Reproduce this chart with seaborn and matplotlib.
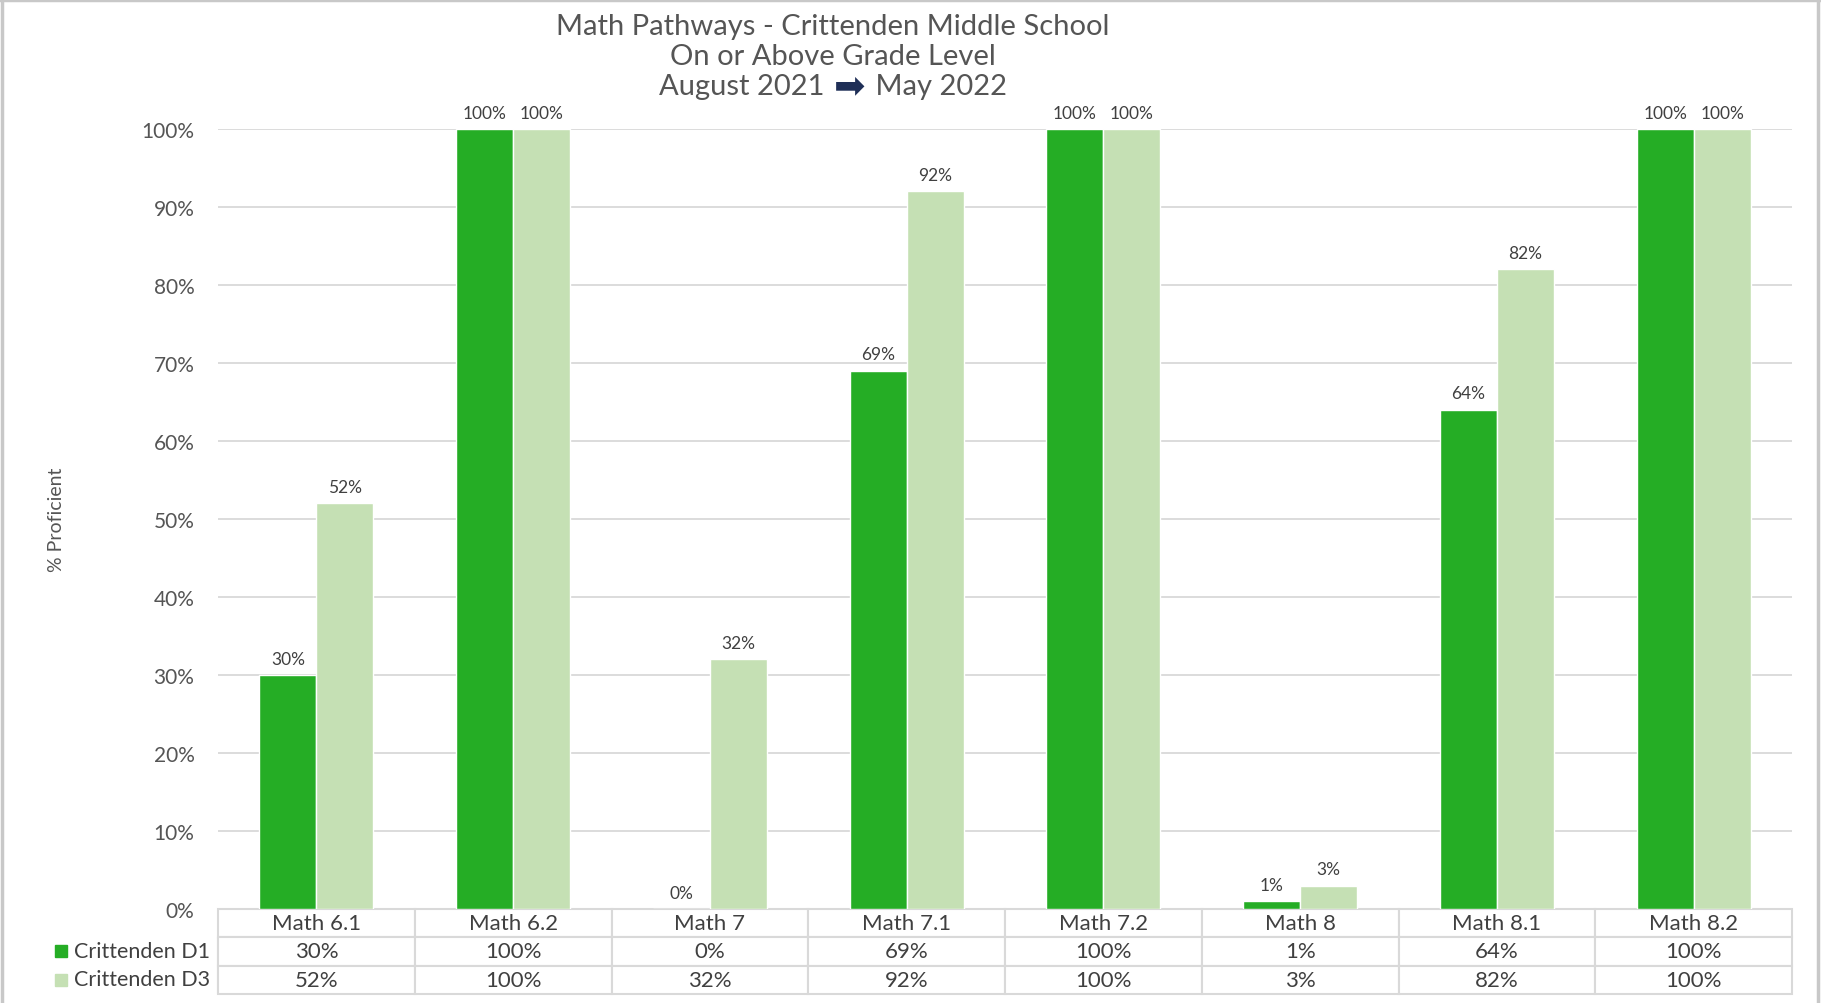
import numpy as np
import pandas as pd
import matplotlib
matplotlib.use("Agg")
import matplotlib.pyplot as plt
from matplotlib.lines import Line2D
from matplotlib.offsetbox import TextArea, HPacker, AnchoredOffsetbox
from matplotlib.ticker import FuncFormatter
import seaborn as sns

# ---- data -------------------------------------------------------------
courses = ["Math 6.1", "Math 6.2", "Math 7", "Math 7.1",
           "Math 7.2", "Math 8", "Math 8.1", "Math 8.2"]
series_names = ["Crittenden D1", "Crittenden D3"]
d1_values = [30, 100, 0, 69, 100, 1, 64, 100]
d3_values = [52, 100, 32, 92, 100, 3, 82, 100]
y_ticks = [0, 10, 20, 30, 40, 50, 60, 70, 80, 90, 100]
title_lines = ["Math Pathways - Crittenden Middle School", "On or Above Grade Level"]
period_start, period_end = "August 2021", "May 2022"
y_label = "% Proficient"

# ---- styling ----------------------------------------------------------
DARK = "#25ad25"
LIGHT = "#c5e0b4"
TEXT = "#555555"
LABEL = "#404040"
GRID = "#d9d9d9"

sns.set_theme(style="white")
plt.rcParams["font.family"] = ["Lato", "DejaVu Sans"]

df = pd.DataFrame({
    "course": courses * 2,
    "series": [series_names[0]] * len(courses) + [series_names[1]] * len(courses),
    "value": d1_values + d3_values,
})

fig = plt.figure(figsize=(18.21, 10.04), dpi=100)
ax = fig.add_axes([218 / 1821, 1 - 910 / 1004, (1792 - 218) / 1821, (910 - 130) / 1004])

sns.barplot(data=df, x="course", y="value", hue="series", order=courses,
            hue_order=series_names, palette=[DARK, LIGHT], saturation=1,
            width=0.58, dodge=True, legend=False, ax=ax, zorder=3)

for container in ax.containers:
    ax.bar_label(container, labels=[f"{v:.0f}%" for v in container.datavalues],
                 padding=6, fontsize=12.5, color=LABEL, zorder=4)

ax.set_ylim(0, 100)
ax.set_xlim(-0.5, len(courses) - 0.5)
ax.set_yticks(y_ticks)
ax.yaxis.set_major_formatter(FuncFormatter(lambda v, _: f"{v:.0f}%"))
ax.tick_params(axis="y", length=0, pad=17, labelsize=15, labelcolor=TEXT)
ax.set_xticks([])
ax.set_xlabel("")
ax.set_ylabel(y_label, fontsize=14, color=TEXT)
ax.yaxis.set_label_coords(-0.097, 0.5)
ax.yaxis.grid(True, color=GRID, linewidth=1.3, zorder=0)
ax.set_axisbelow(True)
for s in ax.spines.values():
    s.set_visible(False)

# ---- data table below the plot -----------------------------------------
cell_text = [[f"{v}%" for v in d1_values], [f"{v}%" for v in d3_values]]
row_w = 172 / 1574
tbl_h = (995 - 910) / 780
table = ax.table(cellText=cell_text, rowLabels=["", ""], colLabels=courses,
                 colWidths=[1 / len(courses)] * len(courses),
                 cellLoc="center", rowLoc="left",
                 bbox=[0, -tbl_h, 1, tbl_h])
table.auto_set_font_size(False)
table.set_fontsize(16)
for (r, c), cell in table.get_celld().items():
    cell.set_edgecolor(GRID)
    cell.set_linewidth(1.5)
    cell.get_text().set_color(LABEL)
    if c == -1:
        cell.set_width(row_w)

# row labels with their colour keys
for i, (name, color) in enumerate(zip(series_names, [DARK, LIGHT])):
    yc = (910 - (952 + 28.5 * i)) / 780
    ax.plot([(60.5 - 218) / 1574], [yc], marker="s", markersize=8.5, color=color,
            transform=ax.transAxes, clip_on=False, linestyle="none")
    ax.text((74 - 218) / 1574, yc, name, transform=ax.transAxes, ha="left",
            va="center", fontsize=15.5, color=LABEL, clip_on=False)

# ---- title ------------------------------------------------------------
TITLE_SIZE = 21
for i, line in enumerate(title_lines):
    fig.text(833 / 1821, 1 - (27 + 30.5 * i) / 1004, line, ha="center", va="center",
             fontsize=TITLE_SIZE, color=TEXT)

parts = [
    TextArea(period_start + " ", textprops=dict(fontsize=TITLE_SIZE, color=TEXT)),
    TextArea("\u27a1", textprops=dict(fontsize=27, color="#1f2f57",
                                       family=["DejaVu Sans"])),
    TextArea(" " + period_end, textprops=dict(fontsize=TITLE_SIZE, color=TEXT)),
]
box = HPacker(children=parts, align="center", pad=0, sep=2)
anchored = AnchoredOffsetbox(loc="center", child=box, frameon=False, pad=0,
                             bbox_to_anchor=(833 / 1821, 1 - 87 / 1004),
                             bbox_transform=fig.transFigure, borderpad=0)
fig.add_artist(anchored)

# ---- thin frame around the chart area -----------------------------------
frame_kw = dict(color="#c8c8c8", linewidth=2.5, transform=fig.transFigure)
fig.add_artist(Line2D([0, 1], [0.999, 0.999], **frame_kw))
fig.add_artist(Line2D([0.001, 0.001], [0, 1], **frame_kw))
fig.add_artist(Line2D([0.9985, 0.9985], [0, 1], **frame_kw))

fig.savefig("out.png", dpi=100, facecolor="white")
